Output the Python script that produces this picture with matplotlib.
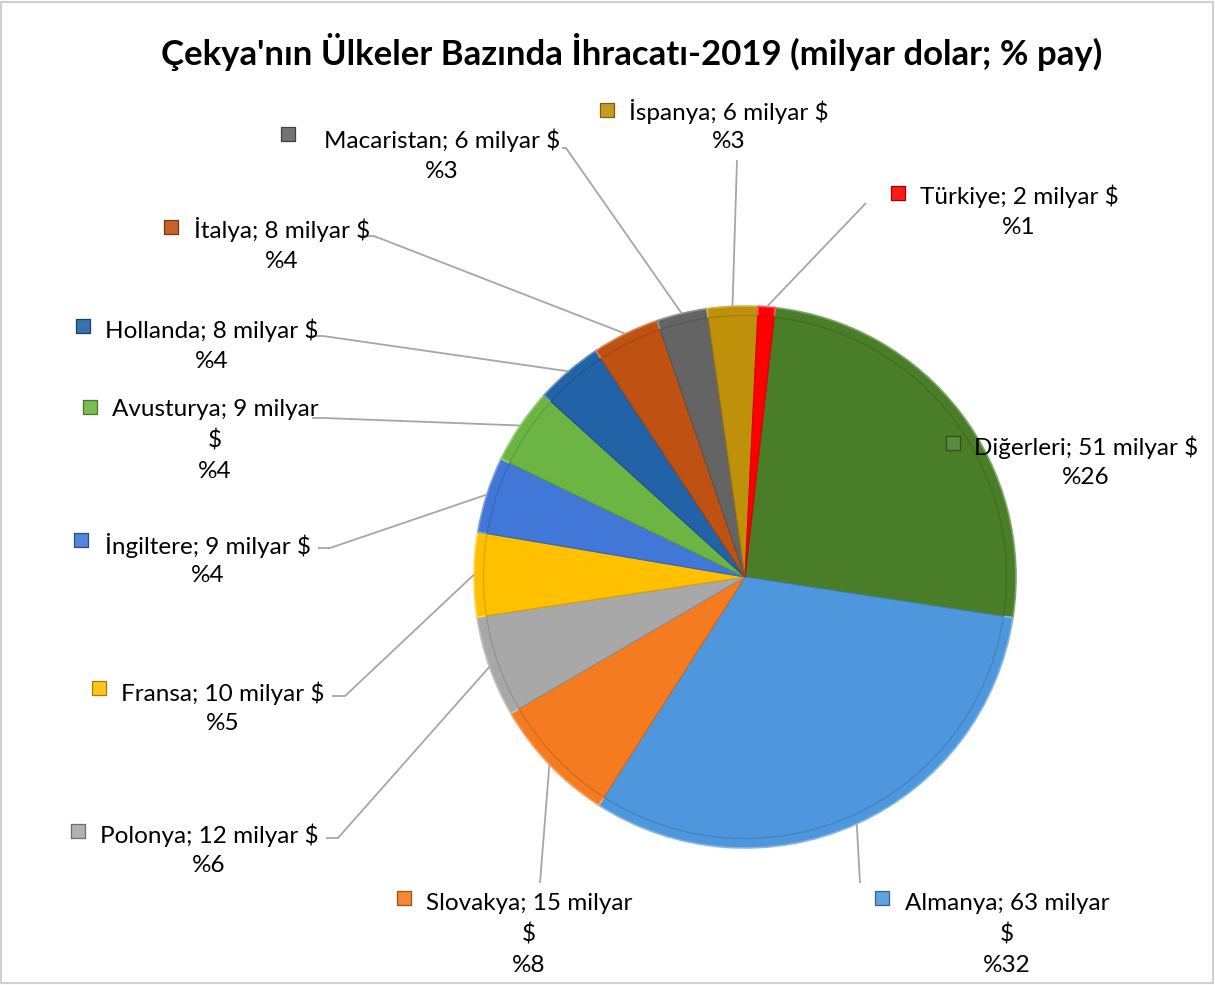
import matplotlib
matplotlib.use("Agg")
import matplotlib.pyplot as plt
import matplotlib.colors as mcolors
from matplotlib.patches import Rectangle
import numpy as np

# data (milyar dolar, % pay), clockwise from 12 o'clock
countries = ["Diğerleri", "Almanya", "Slovakya", "Polonya", "Fransa", "İngiltere",
             "Avusturya", "Hollanda", "İtalya", "Macaristan", "İspanya", "Türkiye"]
values = [51, 63, 15, 12, 10, 9, 9, 8, 8, 6, 6, 2]
shares = [26, 32, 8, 6, 5, 4, 4, 4, 4, 3, 3, 1]
colors = ["#4a7d28", "#4f97dd", "#f47b20", "#a8a8a8", "#ffc000", "#4177d6",
          "#6cb544", "#2163a6", "#bf5212", "#646464", "#bf900a", "#ff0000"]

title = "Çekya'nın Ülkeler Bazında İhracatı-2019 (milyar dolar; % pay)"

# layout in pixels (figure is 1215 x 985, pie centre 745,577, radius 271)
W, H = 1215, 985
CX, CY, R = 745, 577, 271
wrap = [False, True, True, False, False, False, True, False, False, False, False, False]
text_x = [1086, 1007, 529, 209, 223, 208, 215, 212, 282, 442, 729, 1019]
text_y = [447, 903, 903, 835, 693, 545, 410, 330, 230, 140, 111, 196]
key_xy = [(953, 443), (882, 898), (404, 898), (78, 831), (99, 688), (81, 540),
          (90, 407), (83, 326), (171, 227), (288, 134), (607, 110), (898, 193)]
# leader lines: (label end, knee) in pixels, None = no line
leaders = [None,
           ((860, 883), (860, 883)),
           ((540, 883), (540, 883)),
           ((326, 838), (338, 838)),
           ((332, 696), (345, 696)),
           ((318, 548), (330, 548)),
           ((312, 418), (324, 418)),
           ((310, 336), (323, 336)),
           ((360, 236), (374, 236)),
           ((562, 148), (566, 148)),
           ((737, 160), (737, 160)),
           ((866, 203), (866, 203))]
LINE_H = 31


def px(x, y):
    return (x - CX) / R, (CY - y) / R


def lighter(c, f=0.35):
    rgb = np.array(mcolors.to_rgb(c))
    return tuple(rgb + (1 - rgb) * f)


def darker(c, f=0.25):
    rgb = np.array(mcolors.to_rgb(c))
    return tuple(rgb * (1 - f))


plt.rcParams['font.family'] = ['Lato', 'DejaVu Sans']

fig = plt.figure(figsize=(W / 100, H / 100), dpi=100)
ax = fig.add_axes([0, 0, 1, 1])

start = 90 - 6.4
wedges, _ = ax.pie(values, colors=colors, startangle=start, counterclock=False,
                   radius=1, center=(0, 0), frame=True,
                   wedgeprops=dict(linewidth=1.2))
for w, c in zip(wedges, colors):
    w.set_edgecolor(lighter(c, 0.3))
# inner body slightly inset to mimic the bevel
inner, _ = ax.pie(values, colors=colors, startangle=start, counterclock=False,
                  radius=0.965, center=(0, 0), frame=True,
                  wedgeprops=dict(linewidth=0.8))
for w, c in zip(inner, colors):
    w.set_edgecolor(darker(c, 0.15))
ax.set_xlim(px(0, 0)[0], px(W, 0)[0])
ax.set_ylim(px(0, H)[1], px(0, 0)[1])
ax.set_aspect('equal')
ax.axis('off')

for i, name in enumerate(countries):
    if wrap[i]:
        lines = [f"{name}; {values[i]} milyar", "$", f"%{shares[i]}"]
    else:
        lines = [f"{name}; {values[i]} milyar $", f"%{shares[i]}"]
    for k, s in enumerate(lines):
        x, y = px(text_x[i], text_y[i] + k * LINE_H)
        ax.text(x, y, s, ha='center', va='center', fontsize=17.5, color='#000000')
    kx, ky = px(*key_xy[i])
    ax.scatter([kx], [ky], marker='s', s=110, color=lighter(colors[i], 0.1),
               edgecolor=darker(colors[i], 0.35), linewidth=0.9, zorder=5)

    if leaders[i] is not None:
        w = wedges[i]
        mid = np.deg2rad((w.theta1 + w.theta2) / 2)
        ex, ey = np.cos(mid), np.sin(mid)
        (x0, y0), (x1, y1) = leaders[i]
        a = px(x0, y0)
        b = px(x1, y1)
        ax.plot([a[0], b[0], ex], [a[1], b[1], ey], color='#a6a6a6', lw=1.3,
                zorder=1, solid_capstyle='butt')

fig.text(632 / W, 1 - 52 / H, title, ha='center', va='center',
         fontsize=25, fontweight='bold', color='#000000')

fig.patches.append(Rectangle((0.001, 0.002), 0.997, 0.996, transform=fig.transFigure,
                             fill=False, edgecolor='#d0d0d0', linewidth=1.5))

fig.savefig("out.png", dpi=100, facecolor='white')
